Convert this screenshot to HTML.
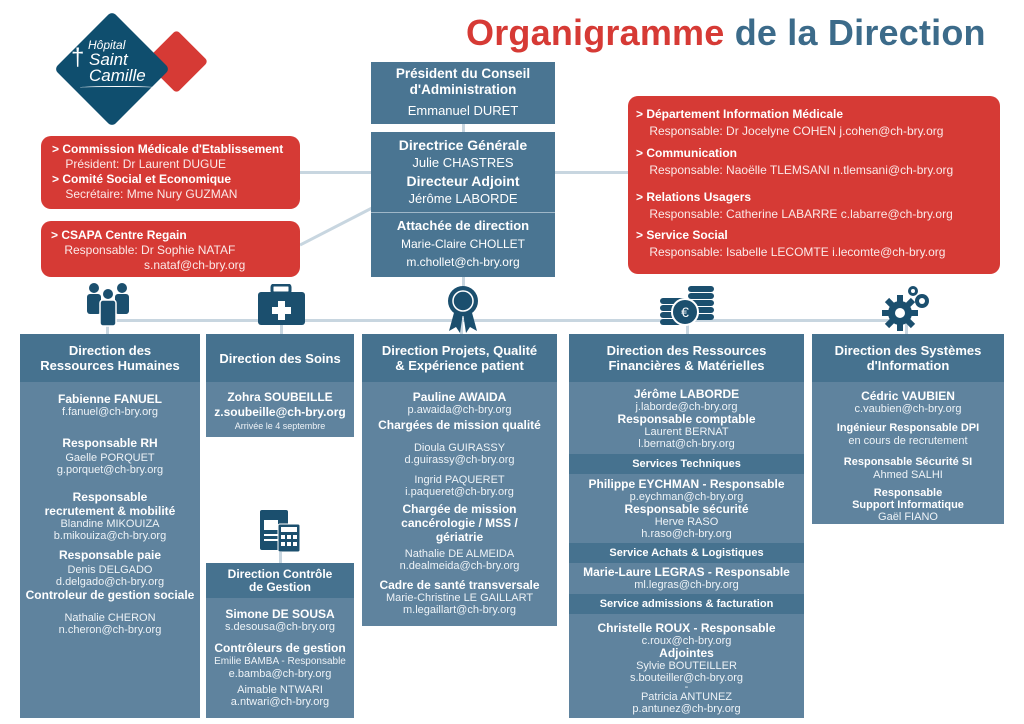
<!DOCTYPE html>
<html><head><meta charset="utf-8"><style>
*{margin:0;padding:0;box-sizing:border-box}
body{width:1024px;height:724px;background:#fff;position:relative;overflow:hidden;font-family:"Liberation Sans",sans-serif;color:#fff}
.a{position:absolute}
.hd{position:absolute;background:#46728f;font-weight:bold;font-size:13px;text-align:center;line-height:15px;display:flex;align-items:center;justify-content:center}
.bd{position:absolute;background:#5f839e;text-align:center;font-size:11px;line-height:12px;color:#eef3f7}
.bd b{color:#fff;font-size:12px;display:block;line-height:14px}
.sub{background:#46728f;font-weight:bold;font-size:11px;line-height:20px;color:#fff}
.c4{line-height:12px}
.c4 b{line-height:13px}
.c4 .sub{line-height:20px}
.red{position:absolute;background:#d63a35;border-radius:10px;font-size:12px;line-height:15px;color:#fbe9e8}
.red b{color:#fff}
.ln{position:absolute;background:#c8d6e0}
</style></head><body>
<!-- logo -->
<div class="a" style="left:154px;top:39px;width:45px;height:45px;background:#d63a35;transform:rotate(45deg);border-radius:4px"></div>
<div class="a" style="left:71px;top:28px;width:82px;height:82px;background:#0f4e6e;transform:rotate(45deg);border-radius:5px"></div>
<div class="a" style="left:88px;top:39px;font-size:12px;font-style:italic;color:#fff;line-height:13px">Hôpital</div>
<div class="a" style="left:71px;top:46px;font-size:24px;color:#fff;line-height:24px">†</div>
<div class="a" style="left:89px;top:52px;font-size:17px;font-style:italic;color:#fff;line-height:16px">Saint<br>Camille</div>
<div class="a" style="left:80px;top:86px;width:75px;height:3px;border-top:1.5px solid #fff;border-radius:50%"></div>
<!-- title -->
<div class="a" style="left:466px;top:12px;font-size:36px;font-weight:bold;letter-spacing:0.2px;white-space:nowrap"><span style="color:#d63a35">Organigramme</span> <span style="color:#3c6b8a">de la Direction</span></div>
<!-- lines -->
<div class="ln" style="left:107px;top:319px;width:800px;height:3px"></div>
<div class="ln" style="left:300px;top:171px;width:72px;height:3px"></div>
<div class="ln" style="left:555px;top:171px;width:75px;height:3px"></div>
<div class="ln" style="left:462px;top:124px;width:3px;height:10px"></div>
<div class="ln" style="left:462px;top:277px;width:3px;height:12px"></div>
<svg class="a" style="left:300px;top:205px" width="75" height="42"><line x1="0" y1="40" x2="72" y2="3" stroke="#c8d6e0" stroke-width="3"/></svg>
<div class="ln" style="left:106px;top:319px;width:3px;height:16px"></div>
<div class="ln" style="left:280px;top:319px;width:3px;height:16px"></div>
<div class="ln" style="left:460px;top:319px;width:3px;height:16px"></div>
<div class="ln" style="left:686px;top:319px;width:3px;height:16px"></div>
<div class="ln" style="left:905px;top:319px;width:3px;height:16px"></div>
<div class="ln" style="left:279px;top:550px;width:3px;height:14px"></div>
<!-- icons -->
<svg class="a" style="left:84px;top:282px" width="48" height="46" fill="#1b4f6e"><circle cx="10" cy="6" r="5"/><circle cx="38" cy="6" r="5"/><circle cx="24" cy="12" r="5"/><rect x="3" y="12" width="14" height="20" rx="3"/><rect x="31" y="12" width="14" height="20" rx="3"/><rect x="16" y="18" width="16" height="26" rx="3" stroke="#fff" stroke-width="1.5"/></svg>
<svg class="a" style="left:258px;top:284px" width="48" height="42"><rect x="14" y="1" width="18" height="8" rx="2" fill="none" stroke="#1b4f6e" stroke-width="3"/><rect x="0" y="8" width="47" height="33" rx="3" fill="#1b4f6e"/><path d="M20 17h7v6h6v7h-6v6h-7v-6h-6v-7h6z" fill="#fff"/></svg>
<svg class="a" style="left:445px;top:285px" width="36" height="48" fill="#1b4f6e"><path d="M10 24 4 46l7-4 4 6 3-20zM26 24l6 22-7-4-4 6-3-20z"/><circle cx="18" cy="16" r="15"/><circle cx="18" cy="16" r="10" fill="none" stroke="#fff" stroke-width="1.5"/></svg>
<svg class="a" style="left:660px;top:284px" width="56" height="42" fill="#1b4f6e"><rect x="0" y="14" width="26" height="6" rx="3"/><rect x="0" y="21" width="26" height="6" rx="3"/><rect x="0" y="28" width="26" height="6" rx="3"/><rect x="0" y="35" width="26" height="6" rx="3"/><rect x="28" y="2" width="26" height="6" rx="3"/><rect x="28" y="9" width="26" height="6" rx="3"/><rect x="28" y="16" width="26" height="6" rx="3"/><rect x="28" y="23" width="26" height="6" rx="3"/><rect x="28" y="30" width="26" height="6" rx="3"/><circle cx="25" cy="28" r="13" stroke="#fff" stroke-width="2"/><text x="25" y="33" fill="#fff" font-size="14" text-anchor="middle" font-family="Liberation Sans">€</text></svg>
<svg class="a" style="left:880px;top:285px" width="52" height="46" fill="#1b4f6e"><circle cx="20" cy="28" r="12"/><g stroke="#1b4f6e" stroke-width="6"><line x1="20" y1="10" x2="20" y2="46"/><line x1="2" y1="28" x2="38" y2="28"/><line x1="7" y1="15" x2="33" y2="41"/><line x1="33" y1="15" x2="7" y2="41"/></g><circle cx="20" cy="28" r="5" fill="#fff"/><circle cx="42" cy="16" r="7"/><circle cx="42" cy="16" r="3" fill="#fff"/><circle cx="33" cy="6" r="5"/><circle cx="33" cy="6" r="2" fill="#fff"/></svg>
<svg class="a" style="left:258px;top:508px" width="44" height="44" fill="#1b4f6e"><rect x="2" y="2" width="28" height="40" rx="2"/><rect x="6" y="12" width="14" height="10" fill="#fff"/><rect x="6" y="26" width="18" height="2" fill="#fff"/><rect x="6" y="31" width="18" height="2" fill="#fff"/><rect x="20" y="16" width="22" height="28" rx="2" stroke="#fff"/><rect x="23" y="19" width="16" height="5" fill="#fff"/><g fill="#fff"><rect x="23" y="27" width="4" height="4"/><rect x="29" y="27" width="4" height="4"/><rect x="35" y="27" width="4" height="4"/><rect x="23" y="34" width="4" height="4"/><rect x="29" y="34" width="4" height="4"/><rect x="35" y="34" width="4" height="4"/></g></svg>
<!-- center boxes -->
<div class="a" style="left:371px;top:62px;width:184px;height:62px;background:#4a7592;text-align:center;padding-top:4px"><div style="font-weight:bold;font-size:13.5px;line-height:16px">Président du Conseil<br>d'Administration</div><div style="font-size:13px;margin-top:5px">Emmanuel DURET</div></div>
<div class="a" style="left:371px;top:132px;width:184px;height:145px;background:#4a7592;text-align:center;font-size:13px;line-height:18px;padding-top:4px">
<div style="font-weight:bold;font-size:14px">Directrice Générale</div><div>Julie CHASTRES</div><div style="font-weight:bold;font-size:14px">Directeur Adjoint</div><div>Jérôme LABORDE</div>
<div style="border-top:1px solid #9fb7c8;margin-top:4px;padding-top:4px;font-size:12px"><b style="font-size:13px">Attachée de direction</b><br>Marie-Claire CHOLLET<br>m.chollet@ch-bry.org</div></div>
<!-- red boxes -->
<div class="red" style="left:41px;top:136px;width:259px;height:73px;padding:6px 0 0 11px"><b>&gt; Commission Médicale d'Etablissement</b><br>&nbsp;&nbsp;&nbsp;&nbsp;Président: Dr Laurent DUGUE<br><b>&gt; Comité Social et Economique</b><br>&nbsp;&nbsp;&nbsp;&nbsp;Secrétaire: Mme Nury GUZMAN</div>
<div class="red" style="left:41px;top:221px;width:259px;height:56px;padding:7px 0 0 10px"><b>&gt; CSAPA Centre Regain</b><br>&nbsp;&nbsp;&nbsp;&nbsp;Responsable: Dr Sophie NATAF<br><span style="padding-left:93px">s.nataf@ch-bry.org</span></div>
<div class="red" style="left:628px;top:96px;width:372px;height:178px;padding:10px 0 0 8px;line-height:17px"><b>&gt; Département Information Médicale</b><br>&nbsp;&nbsp;&nbsp;&nbsp;Responsable: Dr Jocelyne COHEN j.cohen@ch-bry.org<div style="height:5px"></div><b>&gt; Communication</b><br>&nbsp;&nbsp;&nbsp;&nbsp;Responsable: Naoëlle TLEMSANI n.tlemsani@ch-bry.org<div style="height:10px"></div><b>&gt; Relations Usagers</b><br>&nbsp;&nbsp;&nbsp;&nbsp;Responsable: Catherine LABARRE c.labarre@ch-bry.org<div style="height:4px"></div><b>&gt; Service Social</b><br>&nbsp;&nbsp;&nbsp;&nbsp;Responsable: Isabelle LECOMTE i.lecomte@ch-bry.org</div>
<!-- col1 -->
<div class="hd" style="left:20px;top:334px;width:180px;height:48px">Direction des<br>Ressources Humaines</div>
<div class="bd" style="left:20px;top:382px;width:180px;height:336px;padding-top:10px">
<b>Fabienne FANUEL</b>f.fanuel@ch-bry.org<div style="height:18px"></div>
<b>Responsable RH</b><div style="height:2px"></div>Gaelle PORQUET<br>g.porquet@ch-bry.org<div style="height:14px"></div>
<b>Responsable<br>recrutement &amp; mobilité</b>Blandine MIKOUIZA<br>b.mikouiza@ch-bry.org<div style="height:6px"></div>
<b>Responsable paie</b><div style="height:2px"></div>Denis DELGADO<br>d.delgado@ch-bry.org<b>Controleur de gestion sociale</b><div style="height:10px"></div>Nathalie CHERON<br>n.cheron@ch-bry.org</div>
<!-- col2 -->
<div class="hd" style="left:206px;top:334px;width:148px;height:48px">Direction des Soins</div>
<div class="bd" style="left:206px;top:382px;width:148px;height:55px;padding-top:8px"><b>Zohra SOUBEILLE</b><b style="line-height:16px">z.soubeille@ch-bry.org</b><span style="font-size:9px">Arrivée le 4 septembre</span></div>
<div class="hd" style="left:206px;top:563px;width:148px;height:35px;font-size:12px;line-height:13px">Direction Contrôle<br>de Gestion</div>
<div class="bd" style="left:206px;top:598px;width:148px;height:120px;padding-top:9px"><b>Simone DE SOUSA</b>s.desousa@ch-bry.org<div style="height:8px"></div><b>Contrôleurs de gestion</b><span style="font-size:10px">Emilie BAMBA -  Responsable</span><br>e.bamba@ch-bry.org<div style="height:4px"></div>Aimable NTWARI<br>a.ntwari@ch-bry.org</div>
<!-- col3 -->
<div class="hd" style="left:362px;top:334px;width:195px;height:48px">Direction Projets, Qualité<br>&amp; Expérience patient</div>
<div class="bd" style="left:362px;top:382px;width:195px;height:244px;padding-top:8px">
<b>Pauline AWAIDA</b>p.awaida@ch-bry.org<div style="height:2px"></div><b>Chargées de mission qualité</b><div style="height:10px"></div>Dioula GUIRASSY<br>d.guirassy@ch-bry.org<div style="height:8px"></div>Ingrid PAQUERET<br>i.paqueret@ch-bry.org<div style="height:4px"></div><b>Chargée de mission<br>cancérologie / MSS /<br>gériatrie</b><div style="height:4px"></div>Nathalie DE ALMEIDA<br>n.dealmeida@ch-bry.org<div style="height:6px"></div><b>Cadre de santé transversale</b>Marie-Christine LE GAILLART<br>m.legaillart@ch-bry.org</div>
<!-- col4 -->
<div class="hd" style="left:569px;top:334px;width:235px;height:48px">Direction des Ressources<br>Financières &amp; Matérielles</div>
<div class="bd c4" style="left:569px;top:382px;width:235px;height:336px;padding-top:6px">
<b>Jérôme LABORDE</b>j.laborde@ch-bry.org<b>Responsable comptable</b>Laurent BERNAT<br>l.bernat@ch-bry.org
<div class="sub" style="margin-top:4px">Services Techniques</div><div style="height:4px"></div>
<b>Philippe EYCHMAN - Responsable</b>p.eychman@ch-bry.org<b>Responsable sécurité</b>Herve RASO<br>h.raso@ch-bry.org
<div class="sub" style="margin-top:3px">Service Achats &amp; Logistiques</div><div style="height:3px"></div>
<b>Marie-Laure LEGRAS - Responsable</b>ml.legras@ch-bry.org
<div class="sub" style="margin-top:3px">Service admissions &amp; facturation</div><div style="height:8px"></div>
<b>Christelle ROUX - Responsable</b>c.roux@ch-bry.org<b>Adjointes</b>Sylvie BOUTEILLER<br>s.bouteiller@ch-bry.org<div style="line-height:7px">-</div>Patricia ANTUNEZ<br>p.antunez@ch-bry.org</div>
<!-- col5 -->
<div class="hd" style="left:812px;top:334px;width:192px;height:48px">Direction des Systèmes<br>d'Information</div>
<div class="bd" style="left:812px;top:382px;width:192px;height:142px;padding-top:7px">
<b>Cédric VAUBIEN</b>c.vaubien@ch-bry.org<div style="height:6px"></div><b style="font-size:11px">Ingénieur Responsable DPI</b>en cours de recrutement<div style="height:8px"></div><b style="font-size:11px">Responsable Sécurité SI</b>Ahmed SALHI<div style="height:6px"></div><b style="font-size:11px;line-height:12px">Responsable<br>Support Informatique</b>Gaël FIANO</div>
</body></html>
